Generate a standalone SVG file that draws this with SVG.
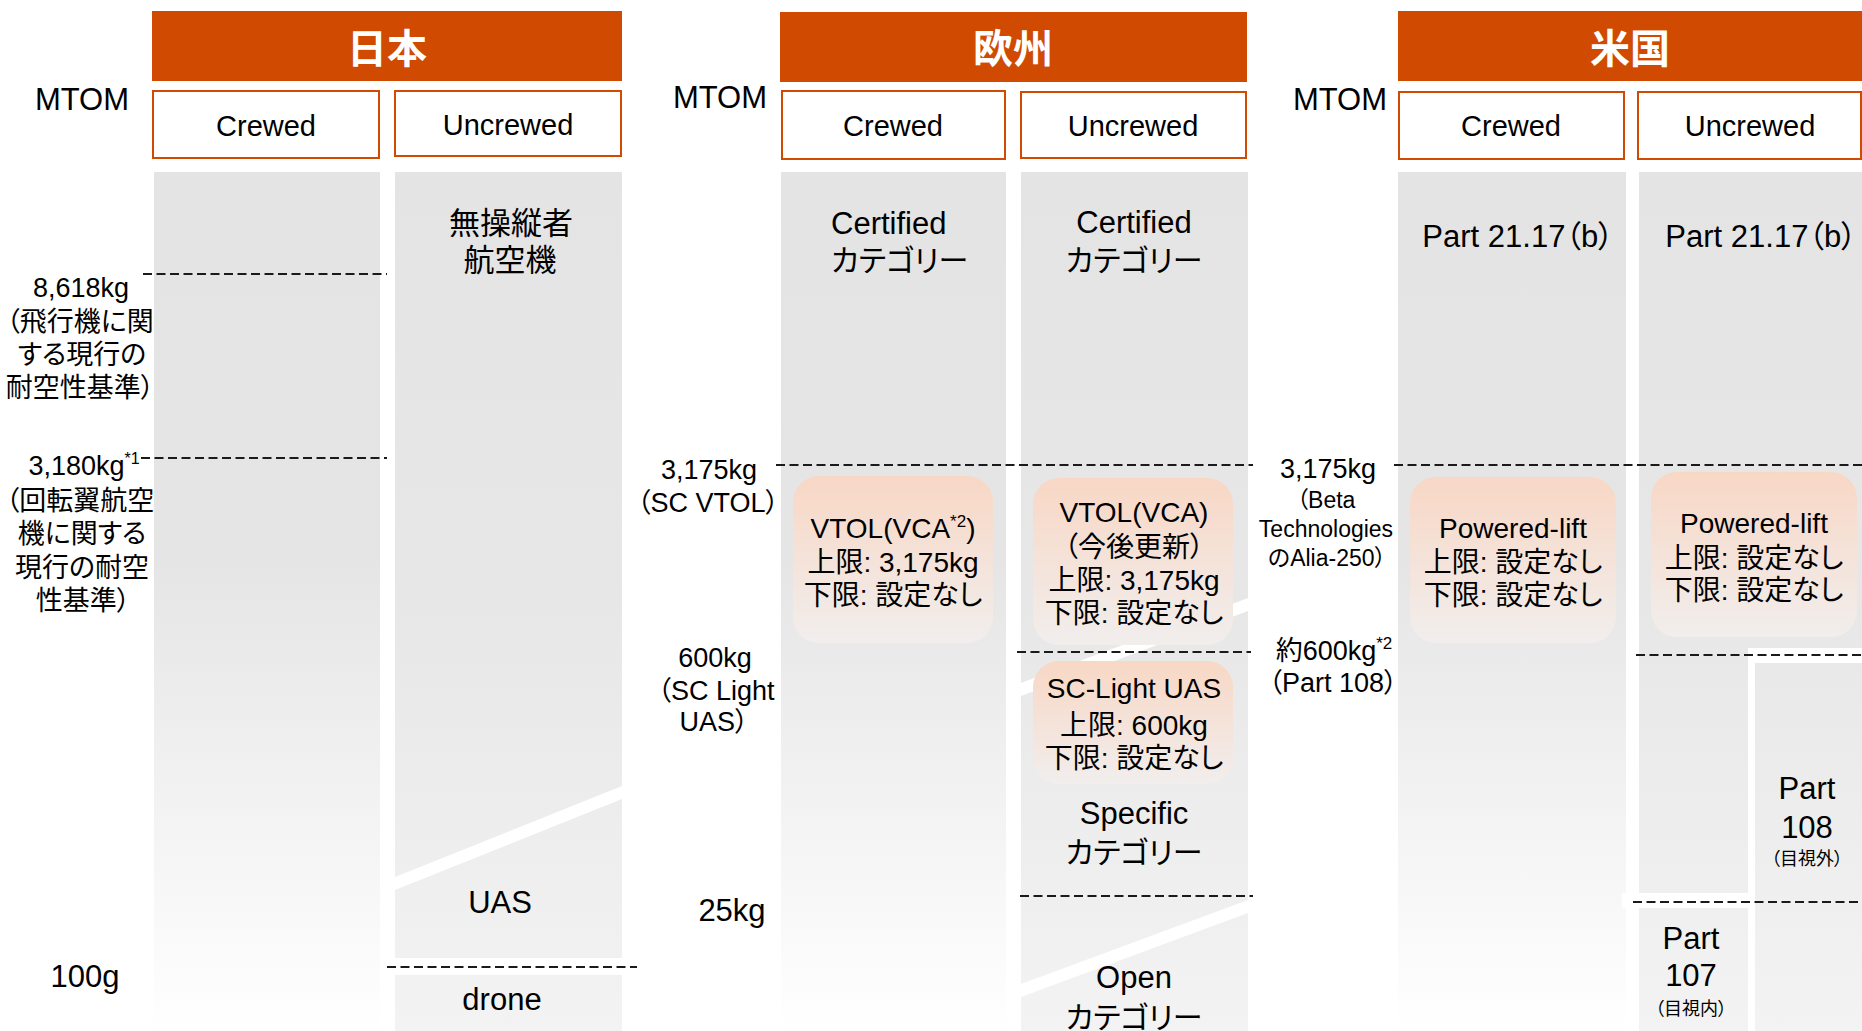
<svg xmlns="http://www.w3.org/2000/svg" width="1862" height="1031" viewBox="0 0 1862 1031">
<style>
.hdr{fill:#d04a02}
.hdrt{font-family:"Noto Sans CJK JP",sans-serif;font-weight:700;font-size:40px;fill:#fff;text-anchor:middle}
.sub{fill:#fff;stroke:#d04a02;stroke-width:2}
.t{font-family:"Liberation Sans","Noto Sans CJK JP",sans-serif;fill:#000;text-anchor:middle;font-feature-settings:"palt"}
.st{text-anchor:start}
.s31{font-size:31px}.s30{font-size:30px}.s29{font-size:29px}.s28{font-size:28px}.s27{font-size:27px}.s26{font-size:26px}.s23{font-size:23px}.s18{font-size:18px}
.cf{fill:url(#crewFade)}
.uf{fill:url(#uncrewFade)}
.pk{fill:url(#peach)}
.stripe{fill:#fff}
.dash{stroke:#1a1a1a;stroke-width:2;stroke-dasharray:9 4.5;fill:none}
</style>
<defs>
<linearGradient id="crewFade" gradientUnits="userSpaceOnUse" x1="0" y1="172" x2="0" y2="1031">
<stop offset="0" stop-color="#e4e4e4"/><stop offset="0.45" stop-color="#e5e5e5"/><stop offset="1" stop-color="#ffffff"/>
</linearGradient>
<linearGradient id="uncrewFade" gradientUnits="userSpaceOnUse" x1="0" y1="172" x2="0" y2="1031">
<stop offset="0" stop-color="#e4e4e4"/><stop offset="0.5" stop-color="#e7e7e7"/><stop offset="1" stop-color="#f3f3f3"/>
</linearGradient>
<linearGradient id="peach" x1="0" y1="0" x2="0" y2="1">
<stop offset="0" stop-color="#f8d7c5"/><stop offset="1" stop-color="#f1eeed"/>
</linearGradient>
</defs>
<rect width="1862" height="1031" fill="#fff"/>

<!-- Headers -->
<g id="header-japan"><rect class="hdr" x="152" y="11" width="470" height="70"/><text class="hdrt" x="387" y="63">日本</text></g>
<g id="header-europe"><rect class="hdr" x="780" y="12" width="467" height="70"/><text class="hdrt" x="1013" y="63">欧州</text></g>
<g id="header-usa"><rect class="hdr" x="1398" y="11" width="464" height="70"/><text class="hdrt" x="1630" y="63">米国</text></g>

<!-- MTOM labels -->
<g id="mtom-japan"><text class="t s31" x="82" y="110">MTOM</text></g>
<g id="mtom-europe"><text class="t s31" x="720" y="108">MTOM</text></g>
<g id="mtom-usa"><text class="t s31" x="1340" y="110">MTOM</text></g>

<!-- Sub headers -->
<g id="sub-japan-crewed"><rect class="sub" x="153" y="91" width="226" height="67"/><text class="t s29" x="266" y="136">Crewed</text></g>
<g id="sub-japan-uncrewed"><rect class="sub" x="395" y="91" width="226" height="65"/><text class="t s29" x="508" y="135">Uncrewed</text></g>
<g id="sub-europe-crewed"><rect class="sub" x="782" y="91" width="223" height="68"/><text class="t s29" x="893" y="136">Crewed</text></g>
<g id="sub-europe-uncrewed"><rect class="sub" x="1021" y="92" width="225" height="66"/><text class="t s29" x="1133" y="136">Uncrewed</text></g>
<g id="sub-usa-crewed"><rect class="sub" x="1399" y="92" width="225" height="67"/><text class="t s29" x="1511" y="136">Crewed</text></g>
<g id="sub-usa-uncrewed"><rect class="sub" x="1638" y="92" width="223" height="67"/><text class="t s29" x="1750" y="136">Uncrewed</text></g>

<!-- Japan columns -->
<g id="col-japan-crewed"><rect class="cf" x="154" y="172" width="226" height="859"/></g>
<g id="col-japan-uncrewed">
<rect class="uf" x="395" y="172" width="227" height="786"/>
<polygon class="stripe" points="395,877 622,786 622,799 395,890"/>
<text class="t s31" x="511" y="234">無操縦者</text>
<text class="t s31" x="510" y="271">航空機</text>
<text class="t s31" x="500" y="913">UAS</text>
</g>
<g id="col-japan-drone"><rect class="uf" x="395" y="975" width="227" height="56"/><text class="t s31" x="502" y="1010">drone</text></g>

<!-- Europe columns -->
<g id="col-europe-crewed">
<rect class="cf" x="781" y="172" width="225" height="859"/>
<text class="t s31 st" x="831" y="234">Certified</text>
<text class="t s30 st" x="831" y="271">カテゴリー</text>
</g>
<g id="col-europe-uncrewed">
<rect class="uf" x="1021" y="172" width="227" height="859"/>
<polygon class="stripe" points="1021,683 1248,598 1248,611 1021,696"/>
<polygon class="stripe" points="1021,984 1248,900 1248,913 1021,997"/>
<text class="t s31" x="1134" y="233">Certified</text>
<text class="t s30" x="1134" y="271">カテゴリー</text>
<text class="t s31" x="1134" y="824">Specific</text>
<text class="t s30" x="1134" y="863">カテゴリー</text>
<text class="t s31" x="1134" y="988">Open</text>
<text class="t s30" x="1134" y="1028">カテゴリー</text>
</g>
<g id="box-europe-crewed-vtol">
<rect class="pk" x="793" y="476" width="200" height="167" rx="26"/>
<text class="t s28" x="893" y="538">VTOL(VCA<tspan font-size="17" dy="-11">*2</tspan><tspan dy="11">)</tspan></text>
<text class="t s28" x="893" y="572">上限: 3,175kg</text>
<text class="t s28" x="893" y="605">下限: 設定なし</text>
</g>
<g id="box-europe-uncrewed-vtol">
<rect class="pk" x="1033" y="478" width="200" height="167" rx="26"/>
<text class="t s28" x="1134" y="522">VTOL(VCA)</text>
<text class="t s28" x="1134" y="557">（今後更新）</text>
<text class="t s28" x="1134" y="590">上限: 3,175kg</text>
<text class="t s28" x="1134" y="623">下限: 設定なし</text>
</g>
<g id="box-europe-sc-light">
<rect class="pk" x="1033" y="661" width="200" height="123" rx="26"/>
<text class="t s28" x="1134" y="698">SC-Light UAS</text>
<text class="t s28" x="1134" y="735">上限: 600kg</text>
<text class="t s28" x="1134" y="768">下限: 設定なし</text>
</g>

<!-- USA columns -->
<g id="col-usa-crewed">
<rect class="cf" x="1398" y="172" width="228" height="859"/>
<text class="t s31" x="1518" y="247">Part 21.17（b）</text>
</g>
<g id="col-usa-uncrewed">
<rect class="uf" x="1639" y="172" width="223" height="859"/>
<rect fill="#fff" x="1748" y="648" width="114" height="383"/>
<rect fill="#fff" x="1622" y="893" width="126" height="15"/>
<text class="t s31" x="1761" y="247">Part 21.17（b）</text>
</g>
<g id="box-usa-part108">
<rect class="uf" x="1755" y="663" width="107" height="368"/>
<text class="t s31" x="1807" y="799">Part</text>
<text class="t s31" x="1807" y="838">108</text>
<text class="t s18" x="1807" y="865">（目視外）</text>
</g>
<g id="box-usa-part107">
<rect class="uf" x="1639" y="908" width="109" height="123"/>
<text class="t s31" x="1691" y="949">Part</text>
<text class="t s31" x="1691" y="986">107</text>
<text class="t s18" x="1691" y="1015">（目視内）</text>
</g>
<g id="box-usa-crewed-powered-lift">
<rect class="pk" x="1410" y="477" width="206" height="166" rx="26"/>
<text class="t s28" x="1513" y="538">Powered-lift</text>
<text class="t s28" x="1513" y="572">上限: 設定なし</text>
<text class="t s28" x="1513" y="605">下限: 設定なし</text>
</g>
<g id="box-usa-uncrewed-powered-lift">
<rect class="pk" x="1651" y="472" width="206" height="165" rx="26"/>
<text class="t s28" x="1754" y="533">Powered-lift</text>
<text class="t s28" x="1754" y="568">上限: 設定なし</text>
<text class="t s28" x="1754" y="600">下限: 設定なし</text>
</g>

<!-- Weight labels -->
<g id="label-japan-8618">
<text class="t s27" x="81" y="297">8,618kg</text>
<text class="t s27" x="80" y="331">（飛行機に関</text>
<text class="t s27" x="82" y="364">する現行の</text>
<text class="t s27" x="80" y="397">耐空性基準）</text>
</g>
<g id="label-japan-3180">
<text class="t s27" x="84" y="475">3,180kg<tspan font-size="16" dy="-11">*1</tspan></text>
<text class="t s27" x="80" y="510">（回転翼航空</text>
<text class="t s27" x="82" y="543">機に関する</text>
<text class="t s27" x="82" y="577">現行の耐空</text>
<text class="t s27" x="83" y="610">性基準）</text>
</g>
<g id="label-japan-100g"><text class="t s31" x="85" y="987">100g</text></g>
<g id="label-europe-3175">
<text class="t s27" x="709" y="479">3,175kg</text>
<text class="t s27" x="708" y="512">（SC VTOL）</text>
</g>
<g id="label-europe-600">
<text class="t s27" x="715" y="667">600kg</text>
<text class="t s27" x="716" y="700">（SC Light</text>
<text class="t s27" x="714" y="731">UAS）</text>
</g>
<g id="label-europe-25"><text class="t s31" x="732" y="921">25kg</text></g>
<g id="label-usa-3175">
<text class="t s27" x="1328" y="478">3,175kg</text>
<text class="t s23" x="1326" y="508">（Beta</text>
<text class="t s23" x="1326" y="537">Technologies</text>
<text class="t s23" x="1327" y="566">のAlia-250）</text>
</g>
<g id="label-usa-600">
<text class="t s27" x="1334" y="660">約600kg<tspan font-size="17" dy="-11">*2</tspan></text>
<text class="t s27" x="1333" y="692">（Part 108）</text>
</g>

<!-- Level lines -->
<g id="connectors">
<line class="dash" x1="143" y1="274" x2="387" y2="274"/>
<line class="dash" x1="141" y1="458" x2="387" y2="458"/>
<line class="dash" x1="776" y1="465" x2="1253" y2="465"/>
<line class="dash" x1="1394" y1="465" x2="1862" y2="465"/>
<line class="dash" x1="1017" y1="652" x2="1251" y2="652"/>
<line class="dash" x1="1636" y1="655" x2="1862" y2="655"/>
<line class="dash" x1="1020" y1="896" x2="1253" y2="896"/>
<line class="dash" x1="1633" y1="902" x2="1862" y2="902"/>
<line class="dash" x1="387" y1="967" x2="637" y2="967"/>
</g>
</svg>
